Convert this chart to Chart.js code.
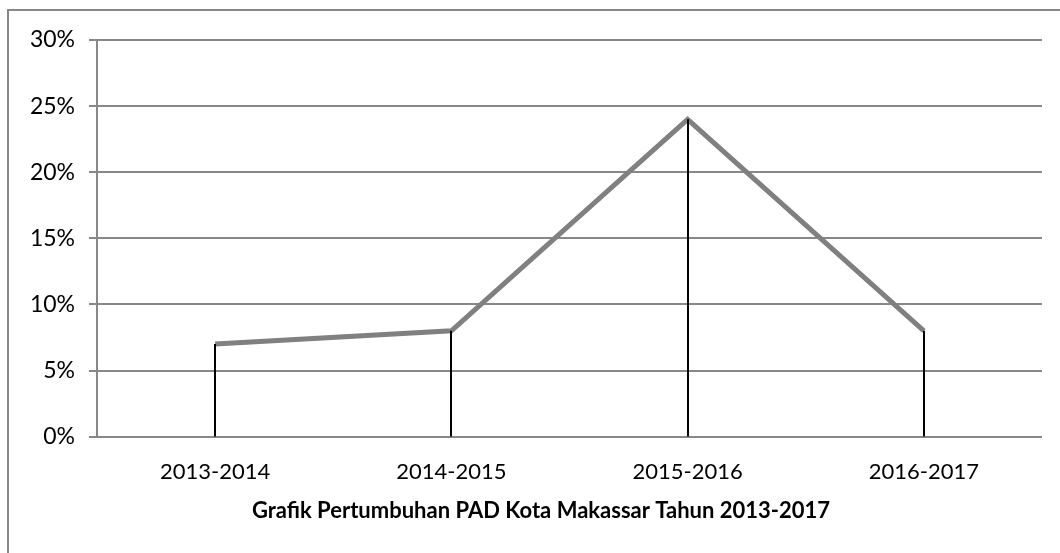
<!DOCTYPE html>
<html>
<head>
<meta charset="utf-8">
<script src="https://cdn.jsdelivr.net/npm/chart.js@4"></script>
<style>
  html, body { margin: 0; padding: 0; background: #fff; overflow: hidden; }
  #wrap { position: relative; width: 1060px; height: 553px; }
  #frame { position: absolute; left: 7px; top: 9px; width: 1100px; height: 600px; border: 2px solid #888; box-sizing: border-box; }
  canvas { position: absolute; left: 0; top: 0; }
</style>
</head>
<body>
<div id="wrap">
  <div id="frame"></div>
  <canvas id="chart" width="1060" height="553"></canvas>
</div>
<script>
const periods = ['2013-2014', '2014-2015', '2015-2016', '2016-2017'];
const growth = [0.07, 0.08, 0.24, 0.08];
const yTicks = [0, 0.05, 0.10, 0.15, 0.20, 0.25, 0.30];

// black drop lines from every point down to the axis
const dropLines = {
  id: 'dropLines',
  afterDatasetsDraw(chart) {
    const ctx = chart.ctx;
    const bottom = chart.scales.y.getPixelForValue(0);
    ctx.save();
    ctx.strokeStyle = '#000';
    ctx.lineWidth = 2;
    chart.getDatasetMeta(0).data.forEach(pt => {
      ctx.beginPath();
      ctx.moveTo(Math.round(pt.x), pt.y);
      ctx.lineTo(Math.round(pt.x), bottom);
      ctx.stroke();
    });
    ctx.restore();
  }
};

const ctx = document.getElementById('chart').getContext('2d');
new Chart(ctx, {
  type: 'line',
  data: {
    labels: periods,
    datasets: [{
      data: growth,
      borderColor: '#808080',
      borderWidth: 5,
      pointRadius: 0,
      tension: 0,
      fill: false
    }]
  },
  options: {
    responsive: false,
    animation: false,
    layout: { padding: { top: 40, right: 0, left: 22, bottom: 0 } },
    plugins: {
      legend: { display: false },
      tooltip: { enabled: false },
      title: {
        display: true,
        position: 'bottom',
        text: 'Grafik Pertumbuhan PAD Kota Makassar Tahun 2013-2017',
        color: '#000',
        font: { family: 'Lato', size: 22, weight: 'bold' },
        padding: { top: 0, bottom: 29 }
      }
    },
    scales: {
      x: {
        offset: true,
        grid: { display: false, drawTicks: false },
        border: { display: false },
        ticks: { color: '#000', padding: 22, font: { family: 'Lato', size: 22 } },
        afterFit(scale) { scale.height = 61; }
      },
      y: {
        min: 0,
        max: 0.30,
        afterBuildTicks(scale) { scale.ticks = yTicks.map(v => ({ value: v })); },
        grid: { color: '#888', lineWidth: 2, tickLength: 8 },
        border: { color: '#888', width: 2 },
        ticks: {
          color: '#000',
          padding: 14,
          font: { family: 'Lato', size: 23 },
          callback: v => Math.round(v * 100) + '%'
        },
        afterFit(scale) { scale.width = 75; }
      },
      // empty right-hand axis, only keeps the right margin
      yRight: {
        position: 'right',
        grid: { display: false, drawTicks: false },
        border: { display: false },
        ticks: { display: false },
        afterFit(scale) { scale.width = 18; }
      }
    }
  },
  plugins: [dropLines]
});
</script>
</body>
</html>
